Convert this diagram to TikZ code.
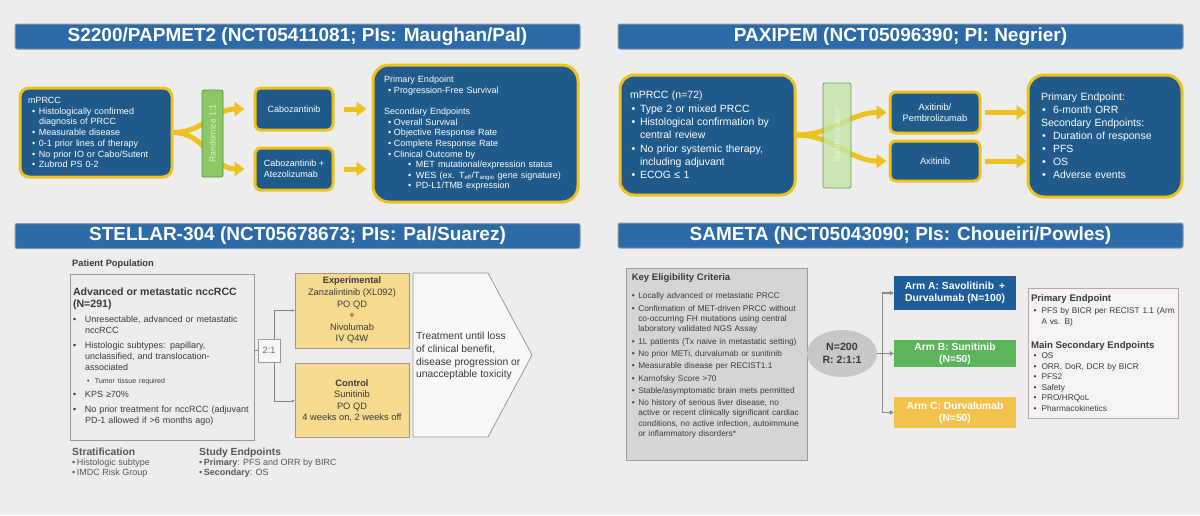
\documentclass[tikz,border=0pt]{standalone}
\usepackage{fontspec}
\setmainfont{Liberation Sans}
\usepackage{xcolor}
\definecolor{trialBg}{HTML}{EDEDED}
\definecolor{trialBar}{HTML}{2C6BA8}
\definecolor{trialBarEdge}{HTML}{8C9AA8}
\definecolor{trialNavy}{HTML}{1F5A8A}
\definecolor{trialGold}{HTML}{EEC21E}
\definecolor{trialGreen}{HTML}{8CC866}
\definecolor{trialGreenDark}{HTML}{5F8F45}
\definecolor{trialGreenPale}{HTML}{C4E4A6}
\definecolor{trialSand}{HTML}{F6DA8F}
\definecolor{trialGray}{HTML}{9A9A9A}
\definecolor{trialText}{HTML}{3A3A3A}
\definecolor{trialKey}{HTML}{D5D5D5}
\definecolor{trialRose}{HTML}{B9A6A6}
\definecolor{armBlue}{HTML}{1E5C9A}
\definecolor{armGreen}{HTML}{5CB45B}
\definecolor{armGold}{HTML}{F1C24C}
\usepackage{tikz}
\usetikzlibrary{calc,arrows.meta,positioning,shapes.geometric}
\newcommand{\bul}[2][0pt]{\hspace*{#1}\makebox[#2][l]{\textbullet}}

\begin{document}
\begin{tikzpicture}[x=1pt, y=-1pt,
    titlebar/.style={fill=trialBar, draw=trialBarEdge, line width=1pt, rounded corners=2pt, minimum width=565pt, minimum height=25pt, text=white, font=\fontsize{19}{21}\selectfont\bfseries},
    navybox/.style={fill=trialNavy, draw=trialGold, line width=3pt, rounded corners=9pt, text=white, align=left, inner sep=0pt},
    randbox/.style={fill=trialGreen, draw=trialGreenDark, line width=0.8pt, rounded corners=2pt, inner sep=0pt},
    goldarrow/.style={-{Triangle[length=10pt,width=14pt]}, line width=5pt, trialGold},
    outline/.style={draw=trialGray, line width=0.8pt, inner sep=0pt, align=left, text=trialText},
    sandbox/.style={fill=trialSand, draw=trialGray!80!brown, line width=0.8pt, align=center, inner sep=0pt, font=\fontsize{9.3}{11.6}\selectfont, text=trialText, minimum width=114pt},
    thinlink/.style={draw=trialGray!85!black, line width=0.6pt},
    graylink/.style={draw=trialGray!90!black, line width=1.2pt, -{Triangle[length=4pt,width=4.5pt]}},
    armbox/.style={minimum width=122pt, text=white, align=center, inner sep=0pt, font=\fontsize{10.3}{12}\selectfont\bfseries}
  ]
    \fill[trialBg] (0,0) rectangle (1200,515);
    % title bars
    \node[titlebar] (titleTL) at (297.5,36.5) {S2200/PAPMET2 (NCT05411081; PIs: Maughan/Pal)};
    \node[titlebar] (titleTR) at (900.5,36.5) {PAXIPEM (NCT05096390; PI: Negrier)};
    \node[titlebar] (titleBL) at (297.5,236) {STELLAR-304 (NCT05678673; PIs: Pal/Suarez)};
    \node[titlebar] (titleBR) at (900.5,235.5) {SAMETA (NCT05043090; PIs: Choueiri/Powles)};

    % S2200
    \node[navybox, minimum width=152pt, minimum height=89pt, text width=136pt, font=\fontsize{9}{10.7}\selectfont] (popTL) at (96,132.5) {mPRCC\\
      \bul[4pt]{7pt}Histologically confirmed\\ \hspace*{11pt}diagnosis of PRCC\\
      \bul[4pt]{7pt}Measurable disease\\
      \bul[4pt]{7pt}0-1 prior lines of therapy\\
      \bul[4pt]{7pt}No prior IO or Cabo/Sutent\\
      \bul[4pt]{7pt}Zubrod PS 0-2};
    \node[navybox, rounded corners=6pt, minimum width=78pt, minimum height=42pt, font=\fontsize{9}{10.7}\selectfont] (caboA) at (294,109) {Cabozantinib};
    \node[navybox, rounded corners=6pt, minimum width=78pt, minimum height=42pt, font=\fontsize{9}{10.7}\selectfont, below=15pt of caboA] (caboB) {Cabozantinib +\\Atezolizumab};
    \node[navybox, rounded corners=16pt, minimum width=205pt, minimum height=137pt, text width=183pt, font=\fontsize{9}{10.6}\selectfont] (endTL) at (475.5,133.5) {Primary Endpoint\\
      \bul[4pt]{6pt}Progression-Free Survival\\[10.6pt]
      Secondary Endpoints\\
      \bul[4pt]{6pt}Overall Survival\\
      \bul[4pt]{6pt}Objective Response Rate\\
      \bul[4pt]{6pt}Complete Response Rate\\
      \bul[4pt]{6pt}Clinical Outcome by\\
      \bul[24pt]{8pt}MET mutational/expression status\\
      \bul[24pt]{8pt}WES (ex. T\textsubscript{eff}/T\textsubscript{angio} gene signature)\\
      \bul[24pt]{8pt}PD-L1/TMB expression};
    \draw[goldarrow] (popTL.east) to[out=0,in=180] ([xshift=-9pt]caboA.west);
    \draw[goldarrow] (popTL.east) to[out=0,in=180] ([xshift=-9pt]caboB.west);
    \node[randbox, rotate=90, minimum width=87pt, minimum height=21pt, text=trialGreenPale!60!white, font=\fontsize{8.6}{10}\selectfont] (randTL) at (212.5,133.5) {Randomize 1:1};
    \draw[goldarrow] ([xshift=9pt]caboA.east) -- ($(endTL.west |- caboA.east)+(-5,0)$);
    \draw[goldarrow] ([xshift=9pt]caboB.east) -- ($(endTL.west |- caboB.east)+(-5,0)$);

    % PAXIPEM
    \node[navybox, rounded corners=14pt, minimum width=175pt, minimum height=120pt, text width=155pt, font=\fontsize{10.5}{13.3}\selectfont] (popTR) at (707.5,135) {mPRCC (n=72)\\
      \bul[1.5pt]{8.5pt}Type 2 or mixed PRCC\\
      \bul[1.5pt]{8.5pt}Histological confirmation by\\ \hspace*{10pt}central review\\
      \bul[1.5pt]{8.5pt}No prior systemic therapy,\\ \hspace*{10pt}including adjuvant\\
      \bul[1.5pt]{8.5pt}ECOG ≤ 1};
    \node[navybox, rounded corners=6pt, minimum width=90pt, minimum height=41pt, align=center, font=\fontsize{9.3}{11}\selectfont] (axiPem) at (935,112.5) {Axitinib/\\Pembrolizumab};
    \node[navybox, rounded corners=6pt, minimum width=90pt, minimum height=40pt, align=center, font=\fontsize{9.3}{11}\selectfont, below=5pt of axiPem] (axi) {Axitinib};
    \node[navybox, rounded corners=16pt, minimum width=154pt, minimum height=122pt, text width=128pt, font=\fontsize{10.5}{13}\selectfont] (endTR) at (1105,136) {Primary Endpoint:\\
      \bul[1pt]{11pt}6-month ORR\\
      Secondary Endpoints:\\
      \bul[1pt]{11pt}Duration of response\\
      \bul[1pt]{11pt}PFS\\
      \bul[1pt]{11pt}OS\\
      \bul[1pt]{11pt}Adverse events};
    \draw[goldarrow] (popTR.east) to[out=0,in=180] ([xshift=-2pt]axiPem.west);
    \draw[goldarrow] (popTR.east) to[out=0,in=180] ([xshift=-2pt]axi.west);
    \node[randbox, fill=trialGreenPale, draw=trialGreen!80!black, fill opacity=0.8, text opacity=1, rotate=90, minimum width=105pt, minimum height=28pt, text=trialGreenPale!40!white, font=\fontsize{8.2}{10}\selectfont] (randTR) at (837,135.5) {Randomization};
    \draw[goldarrow] ([xshift=3pt]axiPem.east) -- (endTR.west |- axiPem.east);
    \draw[goldarrow] ([xshift=3pt]axi.east) -- (endTR.west |- axi.east);

    % STELLAR-304
    \node[anchor=west, inner sep=0pt, text=trialText, font=\fontsize{9.3}{11}\selectfont\bfseries] (popLbl) at (72,264) {Patient Population};
    \node[outline, minimum width=184pt, minimum height=166pt, text width=178pt, font=\fontsize{9}{11}\selectfont] (popBL) at (162,357) {{\fontsize{10.6}{11}\selectfont\bfseries Advanced or metastatic nccRCC\\[1pt](N=291)}\\[4pt]
      \bul{12pt}Unresectable, advanced or metastatic\\ \hspace*{12pt}nccRCC\\[4pt]
      \bul{12pt}Histologic subtypes: papillary,\\ \hspace*{12pt}unclassified, and translocation-\\ \hspace*{12pt}associated\\[2pt]
      \hspace*{14pt}{\fontsize{7}{11}\selectfont\makebox[8pt][l]{\textbullet}Tumor tissue required}\\[3pt]
      \bul{12pt}KPS ≥70\%\\[4pt]
      \bul{12pt}No prior treatment for nccRCC (adjuvant\\ \hspace*{12pt}PD-1 allowed if >6 months ago)};
    \node[outline, fill=white!55!trialBg, minimum width=22pt, minimum height=23pt, align=center, text=trialText!75, font=\fontsize{9}{11}\selectfont] (ratio) at (269,350.5) {2:1};
    \node[sandbox, minimum height=75pt] (exper) at (352,310.5) {\textbf{Experimental}\\Zanzalintinib (XL092)\\PO QD\\+\\Nivolumab\\IV Q4W};
    \node[sandbox, minimum height=74pt, below=15pt of exper] (ctrl) {\textbf{Control}\\Sunitinib\\PO QD\\4 weeks on, 2 weeks off};
    \draw[draw=trialGray, fill=white!60!trialBg, line width=0.8pt] (413,273) -- (488,273) -- (532,355) -- (488,437) -- (413,437) -- cycle;
    \node[anchor=west, align=left, inner sep=0pt, text=trialText, font=\fontsize{10.3}{12.8}\selectfont] (treat) at (416,356) {Treatment until loss\\of clinical benefit,\\disease progression or\\unacceptable toxicity};
    \draw[thinlink] (popBL.east |- ratio.west) -- (ratio.west);
    \draw[thinlink, -{Stealth[length=3pt,width=2.5pt]}] ([xshift=5pt]ratio.north) |- (exper.west);
    \draw[thinlink, -{Stealth[length=3pt,width=2.5pt]}] ([xshift=5pt]ratio.south) |- (ctrl.west);
    \node[anchor=north west, align=left, inner sep=0pt, text=trialText!85, font=\fontsize{9}{10}\selectfont] (strat) at (72,448) {{\fontsize{10.3}{10}\selectfont\bfseries Stratification}\\ \textbullet\,Histologic subtype\\ \textbullet\,IMDC Risk Group};
    \node[anchor=north west, align=left, inner sep=0pt, text=trialText!85, font=\fontsize{9}{10}\selectfont] (studyEp) at (199,448) {{\fontsize{10.3}{10}\selectfont\bfseries Study Endpoints}\\ \textbullet\,\textbf{Primary}: PFS and ORR by BIRC\\ \textbullet\,\textbf{Secondary}: OS};

    % SAMETA
    \node[outline, fill=trialKey, minimum width=181pt, minimum height=192pt] (keyBR) at (716.5,364) {};
    \node[anchor=north west, align=left, text width=172pt, inner sep=0pt, text=trialText, font=\fontsize{8.3}{10.3}\selectfont] (keyTxt) at ($(keyBR.north west)+(6,6)$) {{\fontsize{9.5}{10.3}\selectfont\bfseries Key Eligibility Criteria}\\[8pt]
      \bul{6.5pt}Locally advanced or metastatic PRCC\\[2pt]
      \bul{6.5pt}Confirmation of MET-driven PRCC without\\ \hspace*{6.5pt}co-occurring FH mutations using central\\ \hspace*{6.5pt}laboratory validated NGS Assay\\[2pt]
      \bul{6.5pt}1L patients (Tx naive in metastatic setting)\\[2pt]
      \bul{6.5pt}No prior METi, durvalumab or sunitinib\\[2pt]
      \bul{6.5pt}Measurable disease per RECIST1.1\\[2pt]
      \bul{6.5pt}Karnofsky Score >70\\[2pt]
      \bul{6.5pt}Stable/asymptomatic brain mets permitted\\[2pt]
      \bul{6.5pt}No history of serious liver disease, no\\ \hspace*{6.5pt}active or recent clinically significant cardiac\\ \hspace*{6.5pt}conditions, no active infection, autoimmune\\ \hspace*{6.5pt}or inflammatory disorders*};
    \node[ellipse, fill=trialGray!55, minimum width=70pt, minimum height=47pt, align=center, inner sep=0pt, text=trialText, font=\fontsize{10.6}{13}\selectfont\bfseries] (ellN) at (842,353.5) {N=200\\R: 2:1:1};
    \node[armbox, fill=armBlue, minimum height=34pt] (armA) at (955,293) {Arm A: Savolitinib\enspace+\\Durvalumab (N=100)};
    \node[armbox, fill=armGreen, minimum height=27pt] (armB) at (955,353.5) {Arm B: Sunitinib\\(N=50)};
    \node[armbox, fill=armGold, minimum height=31pt] (armC) at (955,412.5) {Arm C: Durvalumab\\(N=50)};
    \draw[graylink] (ellN.east) -- ++(5,0) |- (armA.west);
    \draw[graylink] (ellN.east) -- (armB.west);
    \draw[graylink] (ellN.east) -- ++(5,0) |- (armC.west);
    \node[outline, draw=trialRose, fill=white!40!trialBg, minimum width=150pt, minimum height=130pt, text width=144pt, font=\fontsize{8.3}{10.5}\selectfont] (endBR) at (1103,353) {{\fontsize{9.6}{10.5}\selectfont\bfseries Primary Endpoint}\\[1.5pt]
      \bul[2.5pt]{8pt}PFS by BICR per RECIST 1.1 (Arm\\ \hspace*{10.5pt}A vs. B)\\[13.5pt]
      {\fontsize{9.6}{10.5}\selectfont\bfseries Main Secondary Endpoints}\\
      \bul[2.5pt]{8pt}OS\\
      \bul[2.5pt]{8pt}ORR, DoR, DCR by BICR\\
      \bul[2.5pt]{8pt}PFS2\\
      \bul[2.5pt]{8pt}Safety\\
      \bul[2.5pt]{8pt}PRO/HRQoL\\
      \bul[2.5pt]{8pt}Pharmacokinetics};
  \end{tikzpicture}
\end{document}
